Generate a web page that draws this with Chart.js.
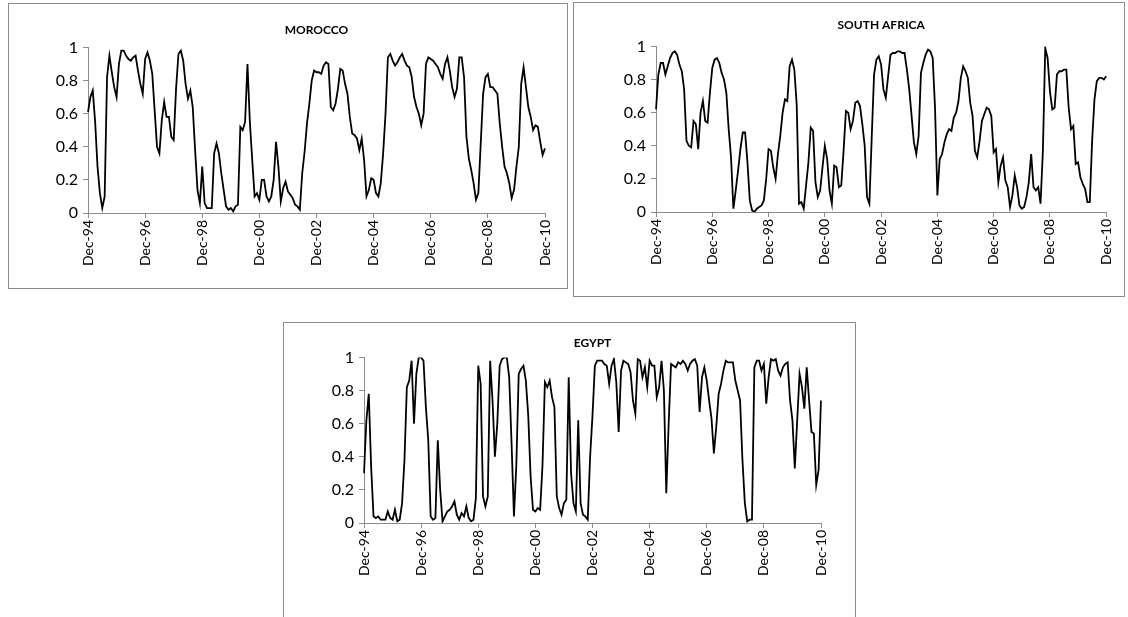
<!DOCTYPE html>
<html>
<head>
<meta charset="utf-8">
<script src="https://cdn.jsdelivr.net/npm/chart.js@4.4.1/dist/chart.umd.min.js"></script>
<style>
  body { margin: 0; background: #fff; width: 1128px; height: 617px; position: relative; overflow: hidden; }
  .box { position: absolute; border: 1px solid #8c8c8c; box-sizing: border-box; }
  canvas { position: absolute; }
</style>
</head>
<body>
<div class="box" style="left:8px;top:3px;width:560px;height:286px"></div>
<canvas id="morocco" width="560" height="286" style="left:8px;top:3px"></canvas>
<div class="box" style="left:573px;top:2px;width:552px;height:295px"></div>
<canvas id="safrica" width="552" height="295" style="left:573px;top:2px"></canvas>
<div class="box" style="left:283px;top:322px;width:573px;height:300px"></div>
<canvas id="egypt" width="573" height="295" style="left:283px;top:322px"></canvas>

<script>
// monthly readings, Dec-94 .. Dec-10
var morocco = [
  0.61, 0.70, 0.74, 0.55, 0.28, 0.12, 0.03, 0.10, 0.82, 0.95,
  0.85, 0.76, 0.70, 0.90, 0.98, 0.98, 0.95, 0.93, 0.92, 0.94,
  0.95, 0.86, 0.78, 0.72, 0.93, 0.97, 0.92, 0.84, 0.62, 0.40,
  0.36, 0.56, 0.67, 0.58, 0.58, 0.46, 0.44, 0.75, 0.96, 0.98,
  0.92, 0.78, 0.69, 0.74, 0.64, 0.38, 0.14, 0.06, 0.28, 0.06,
  0.03, 0.03, 0.03, 0.36, 0.42, 0.36, 0.24, 0.14, 0.04, 0.02,
  0.03, 0.01, 0.04, 0.05, 0.52, 0.50, 0.55, 0.90, 0.55, 0.32,
  0.10, 0.12, 0.08, 0.20, 0.20, 0.10, 0.07, 0.10, 0.20, 0.43,
  0.28, 0.07, 0.15, 0.19, 0.13, 0.11, 0.09, 0.05, 0.04, 0.02,
  0.24, 0.37, 0.54, 0.66, 0.80, 0.86, 0.85, 0.85, 0.84, 0.89,
  0.91, 0.90, 0.64, 0.62, 0.66, 0.75, 0.87, 0.86, 0.78, 0.72,
  0.58, 0.48, 0.47, 0.45, 0.38, 0.45, 0.32, 0.10, 0.14, 0.21,
  0.20, 0.12, 0.10, 0.18, 0.36, 0.60, 0.94, 0.96, 0.92, 0.89,
  0.91, 0.94, 0.96, 0.92, 0.89, 0.88, 0.82, 0.70, 0.64, 0.60,
  0.53, 0.60, 0.90, 0.94, 0.93, 0.92, 0.90, 0.88, 0.84, 0.81,
  0.90, 0.94, 0.86, 0.76, 0.70, 0.75, 0.94, 0.94, 0.82, 0.46,
  0.33, 0.26, 0.18, 0.08, 0.12, 0.42, 0.72, 0.82, 0.84, 0.76,
  0.76, 0.74, 0.72, 0.54, 0.40, 0.28, 0.24, 0.18, 0.09, 0.14,
  0.28, 0.40, 0.78, 0.88, 0.76, 0.64, 0.58, 0.50, 0.53, 0.52,
  0.43, 0.35, 0.39
];

var southAfrica = [
  0.62, 0.83, 0.90, 0.90, 0.83, 0.88, 0.93, 0.96, 0.97, 0.95,
  0.89, 0.85, 0.74, 0.43, 0.40, 0.39, 0.55, 0.53, 0.38, 0.60,
  0.67, 0.55, 0.54, 0.72, 0.87, 0.92, 0.93, 0.90, 0.84, 0.80,
  0.72, 0.50, 0.33, 0.02, 0.13, 0.25, 0.38, 0.48, 0.48, 0.30,
  0.07, 0.01, 0.00, 0.02, 0.03, 0.04, 0.07, 0.20, 0.38, 0.37,
  0.27, 0.20, 0.35, 0.46, 0.60, 0.68, 0.67, 0.88, 0.92, 0.86,
  0.65, 0.05, 0.06, 0.02, 0.16, 0.30, 0.51, 0.49, 0.18, 0.09,
  0.13, 0.27, 0.40, 0.32, 0.13, 0.05, 0.28, 0.27, 0.15, 0.16,
  0.37, 0.61, 0.60, 0.50, 0.55, 0.66, 0.67, 0.64, 0.53, 0.40,
  0.09, 0.05, 0.45, 0.83, 0.92, 0.94, 0.89, 0.74, 0.69, 0.82,
  0.95, 0.96, 0.96, 0.97, 0.97, 0.96, 0.96, 0.86, 0.74, 0.58,
  0.42, 0.35, 0.46, 0.84, 0.90, 0.95, 0.98, 0.97, 0.93, 0.63,
  0.10, 0.32, 0.35, 0.42, 0.47, 0.50, 0.49, 0.57, 0.60, 0.67,
  0.81, 0.88, 0.85, 0.81, 0.66, 0.58, 0.37, 0.33, 0.43, 0.55,
  0.59, 0.63, 0.62, 0.58, 0.36, 0.38, 0.18, 0.28, 0.33, 0.19,
  0.15, 0.03, 0.10, 0.22, 0.15, 0.04, 0.02, 0.03, 0.09, 0.18,
  0.35, 0.15, 0.13, 0.15, 0.05, 0.37, 0.99, 0.93, 0.73, 0.62,
  0.63, 0.83, 0.85, 0.85, 0.86, 0.86, 0.63, 0.50, 0.52, 0.29,
  0.30, 0.21, 0.17, 0.14, 0.06, 0.06, 0.43, 0.68, 0.79, 0.81,
  0.81, 0.80, 0.82
];

var egypt = [
  0.30, 0.62, 0.78, 0.34, 0.04, 0.03, 0.04, 0.02, 0.02, 0.02,
  0.07, 0.03, 0.02, 0.08, 0.01, 0.02, 0.12, 0.38, 0.82, 0.86,
  0.98, 0.60, 0.90, 1.00, 1.00, 0.98, 0.70, 0.50, 0.04, 0.02,
  0.03, 0.50, 0.20, 0.01, 0.04, 0.07, 0.08, 0.10, 0.13, 0.05,
  0.02, 0.06, 0.04, 0.10, 0.03, 0.01, 0.02, 0.15, 0.95, 0.84,
  0.16, 0.10, 0.16, 0.98, 0.74, 0.40, 0.60, 0.95, 0.99, 1.00,
  1.00, 0.88, 0.48, 0.04, 0.35, 0.90, 0.93, 0.95, 0.86, 0.65,
  0.28, 0.08, 0.07, 0.09, 0.08, 0.35, 0.85, 0.82, 0.86, 0.76,
  0.70, 0.16, 0.09, 0.05, 0.12, 0.14, 0.88, 0.30, 0.12, 0.07,
  0.62, 0.12, 0.05, 0.04, 0.02, 0.40, 0.65, 0.95, 0.98, 0.98,
  0.98, 0.96, 0.95, 0.84, 0.95, 0.99, 0.85, 0.55, 0.92, 0.98,
  0.97, 0.96, 0.91, 0.74, 0.66, 0.99, 0.98, 0.88, 0.94, 0.82,
  0.98, 0.95, 0.95, 0.76, 0.82, 0.98, 0.80, 0.18, 0.60, 0.96,
  0.95, 0.94, 0.97, 0.96, 0.98, 0.96, 0.92, 0.96, 0.98, 0.99,
  0.95, 0.67, 0.88, 0.94, 0.86, 0.74, 0.63, 0.42, 0.58, 0.78,
  0.84, 0.92, 0.98, 0.97, 0.97, 0.97, 0.86, 0.80, 0.74, 0.38,
  0.12, 0.01, 0.02, 0.02, 0.94, 0.98, 0.98, 0.92, 0.96, 0.72,
  0.88, 0.99, 0.98, 0.99, 0.92, 0.89, 0.94, 0.96, 0.97, 0.74,
  0.62, 0.33, 0.62, 0.90, 0.82, 0.69, 0.94, 0.74, 0.55, 0.54,
  0.23, 0.32, 0.74
];

var tickLabels = ['Dec-94', 'Dec-96', 'Dec-98', 'Dec-00', 'Dec-02', 'Dec-04', 'Dec-06', 'Dec-08', 'Dec-10'];
var monthNames = ['Jan', 'Feb', 'Mar', 'Apr', 'May', 'Jun', 'Jul', 'Aug', 'Sep', 'Oct', 'Nov', 'Dec'];

// category labels: one per month starting Dec-94
var dates = [];
for (var i = 0; i < morocco.length; i++) {
  var k = 11 + i;
  var yy = (94 + Math.floor(k / 12)) % 100;
  dates.push(monthNames[k % 12] + '-' + (yy < 10 ? '0' : '') + yy);
}

var AXIS = '#8c8c8c';

function makeChart(id, title, values, g) {
  var ctx = document.getElementById(id).getContext('2d');
  return new Chart(ctx, {
    type: 'line',
    data: {
      labels: dates,
      datasets: [{
        data: values,
        borderColor: '#000',
        borderWidth: 1.8,
        pointRadius: 0,
        tension: 0,
        fill: false
      }]
    },
    options: {
      responsive: false,
      animation: false,
      events: [],
      layout: { padding: { left: 0, top: 0, right: g.padRight, bottom: 0 } },
      plugins: {
        legend: { display: false },
        tooltip: { enabled: false },
        title: {
          display: true,
          text: title,
          fullSize: false,
          color: '#000',
          font: { family: 'Lato', size: 12, weight: 'bold', lineHeight: 1.2 },
          padding: { top: g.titleTop, bottom: g.titleBottom }
        }
      },
      scales: {
        x: {
          afterFit: function(s) { s.height = g.xHeight; },
          grid: { display: true, drawOnChartArea: false, drawTicks: true, tickLength: 5, color: AXIS },
          border: { color: AXIS, width: 1 },
          ticks: {
            autoSkip: false,
            minRotation: 90,
            maxRotation: 90,
            padding: 2,
            color: '#000',
            font: { family: 'Lato', size: 14 },
            callback: function(v, idx) {
              var lab = dates[idx];
              return tickLabels.indexOf(lab) >= 0 ? lab : null;
            }
          }
        },
        y: {
          min: 0,
          max: 1,
          afterFit: function(s) { s.width = g.yWidth; },
          grid: { display: true, drawOnChartArea: false, drawTicks: true, tickLength: 5, color: AXIS },
          border: { color: AXIS, width: 1 },
          ticks: {
            stepSize: 0.2,
            padding: 5,
            color: '#000',
            font: { family: 'Lato', size: 16 },
            callback: function(v) { return String(+v.toFixed(1)); }
          }
        }
      }
    }
  });
}

makeChart('morocco', 'MOROCCO', morocco, { yWidth: 80, xHeight: 76, padRight: 23, titleTop: 20, titleBottom: 10 });
makeChart('safrica', 'SOUTH AFRICA', southAfrica, { yWidth: 83, xHeight: 85, padRight: 14, titleTop: 16, titleBottom: 14 });
makeChart('egypt', 'EGYPT', egypt, { yWidth: 81, xHeight: 94, padRight: 35, titleTop: 14, titleBottom: 7 });
</script>
</body>
</html>
